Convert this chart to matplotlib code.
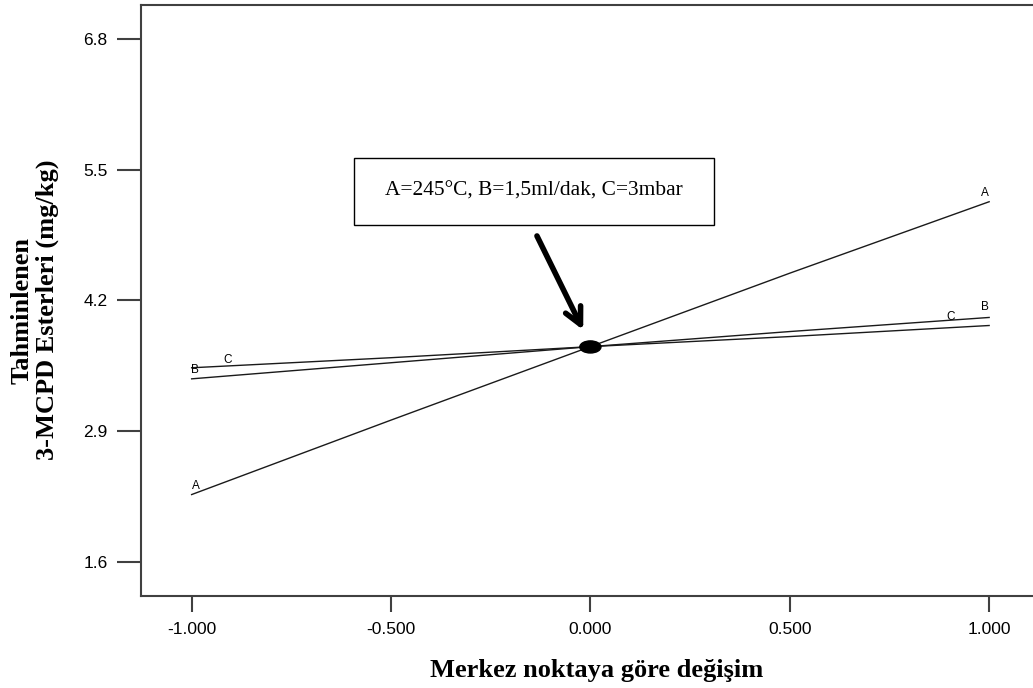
import matplotlib
matplotlib.use('Agg')
import matplotlib.pyplot as plt
from matplotlib.patches import Ellipse, Rectangle

# Perturbation plot data (deviation from reference point)
x_dev = [-1.0, -0.5, 0.0, 0.5, 1.0]
a_vals = [2.27, 3.01, 3.74, 4.47, 5.18]
b_vals = [3.53, 3.63, 3.74, 3.84, 3.95]
c_vals = [3.42, 3.58, 3.74, 3.89, 4.03]

x_ticks = [-1.0, -0.5, 0.0, 0.5, 1.0]
x_ticklabels = ['-1.000', '-0.500', '0.000', '0.500', '1.000']
y_ticks = [1.6, 2.9, 4.2, 5.5, 6.8]

# curve labels (letter, x, y)
curve_labels = [('B', -0.992, 3.508), ('C', -0.909, 3.607), ('A', -0.990, 2.358),
                ('A', 0.990, 5.27), ('B', 0.990, 4.137), ('C', 0.904, 4.038)]

ref_point = (0.0, 3.737)
info_text = 'A=245°C, B=1,5ml/dak, C=3mbar'

W, H = 1033, 688
fig = plt.figure(figsize=(W / 100, H / 100), dpi=100)
ax = fig.add_axes([141 / W, (H - 596) / H, (W - 141) / W, (596 - 5) / H])

for vals in (a_vals, b_vals, c_vals):
    ax.plot(x_dev, vals, color='#1a1a1a', lw=1.0)

for lab, lx, ly in curve_labels:
    ax.text(lx, ly, lab, ha='center', va='center', fontsize=8.5,
            family='Liberation Sans', color='black')

ax.add_patch(Ellipse(ref_point, width=0.053, height=0.12, color='black', zorder=5))

ax.annotate('', xy=(-0.018, 3.905), xytext=(-0.134, 4.84),
            arrowprops=dict(arrowstyle='->,head_length=1.2,head_width=0.6',
                            lw=4, color='black', shrinkA=0, shrinkB=0))

ax.set_xlim(-1.127, 1.110)
ax.set_ylim(1.262, 7.135)
ax.set_xticks(x_ticks)
ax.set_xticklabels(x_ticklabels)
ax.set_yticks(y_ticks)
ax.set_yticklabels([f'{v:.1f}' for v in y_ticks])

for s in ['left', 'top', 'bottom']:
    ax.spines[s].set_color('#404040')
    ax.spines[s].set_linewidth(1.5)
ax.spines['right'].set_visible(False)
ax.tick_params(axis='x', length=11.5, width=1.5, color='#404040', pad=7, labelsize=12.5)
ax.tick_params(axis='y', length=17, width=1.5, color='#404040', pad=7, labelsize=12.5)
for t in ax.get_xticklabels() + ax.get_yticklabels():
    t.set_family('Liberation Sans')

# info box
fig.patches.append(Rectangle((354 / W, 1 - 225 / H), 360 / W, 67 / H, transform=fig.transFigure,
                             fill=False, lw=1.0, edgecolor='black'))
fig.text(534 / W, 1 - 191.5 / H, info_text, ha='center', va='center',
         fontsize=15.4, family='Liberation Serif')

fig.text(597 / W, 1 - 677 / H, 'Merkez noktaya göre değişim', ha='center', va='baseline',
         fontsize=19, fontweight='bold', family='Liberation Serif')
fig.text(35 / W, 1 - 310 / H, 'Tahminlenen\n3-MCPD Esterleri (mg/kg)', ha='center', va='center',
         rotation=90, multialignment='center', fontsize=19, fontweight='bold',
         family='Liberation Serif', linespacing=1.1)

fig.savefig('out.png', dpi=100)
